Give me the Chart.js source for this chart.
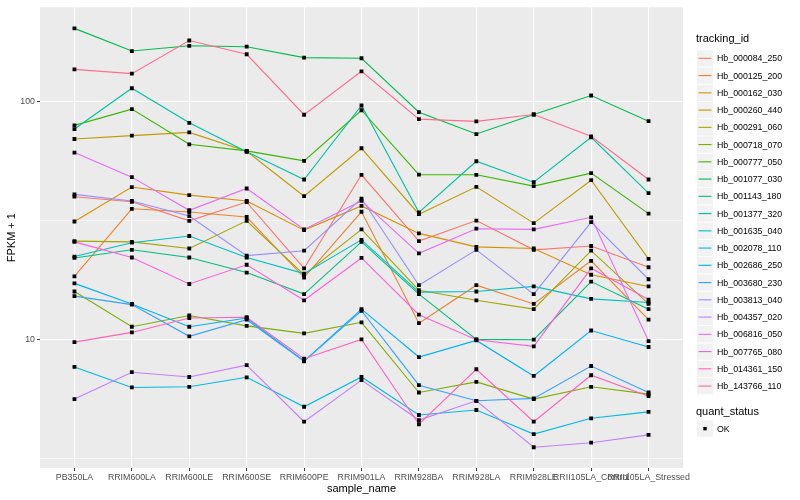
<!DOCTYPE html>
<html>
<head>
<meta charset="utf-8">
<script src="https://cdn.jsdelivr.net/npm/chart.js@4.4.1/dist/chart.umd.min.js"></script>
<style>
  html, body { margin: 0; padding: 0; background: #fff; }
  #wrap { width: 800px; height: 500px; }
</style>
</head>
<body>
<div id="wrap"><canvas id="chart" width="800" height="500"></canvas></div>
<script>
// Samples on the x axis
var sampleNames = ['PB350LA', 'RRIM600LA', 'RRIM600LE', 'RRIM600SE', 'RRIM600PE', 'RRIM901LA',
                   'RRIM928BA', 'RRIM928LA', 'RRIM928LE', 'RRII105LA_Control', 'RRII105LA_Stressed'];

// FPKM + 1 per transcript, one value per sample
var hb_000084_250 = [39.8, 37.9, 31.5, 37.8, 19.9, 49.2, 25.9, 31.6, 23.8, 24.7, 20.1];
var hb_000125_200 = [18.4, 35.4, 34.3, 32.7, 18.2, 34.4, 11.7, 16.9, 14.1, 21.4, 12.1];
var hb_000162_030 = [31.3, 43.7, 40.4, 38.2, 28.8, 36.4, 27.9, 24.5, 24.1, 18.7, 16.7];
var hb_000260_440 = [69.6, 71.9, 74.2, 61.8, 40.0, 63.6, 33.6, 43.8, 30.8, 46.7, 21.8];
var hb_000291_060 = [25.9, 25.7, 24.1, 31.5, 18.7, 29.0, 16.1, 14.6, 13.4, 23.6, 14.1];
var hb_000718_070 = [15.9, 11.3, 12.6, 11.4, 10.6, 11.8, 5.98, 6.63, 5.61, 6.32, 5.89];
var hb_000777_050 = [79.4, 92.9, 66.1, 62.0, 56.3, 91.9, 49.3, 49.2, 44.1, 50.0, 33.8];
var hb_001077_030 = [203, 163, 171.5, 170, 153, 152, 90.2, 73.0, 88.2, 106, 82.7];
var hb_001143_180 = [22.0, 23.8, 22.1, 19.1, 15.5, 25.7, 15.5, 10.0, 9.97, 17.5, 13.4];
var hb_001377_320 = [76.6, 113.7, 81.4, 61.5, 47.0, 96.2, 34.2, 56.1, 45.8, 70.7, 41.2];
var hb_001635_040 = [22.3, 25.5, 27.2, 22.1, 18.9, 26.2, 15.8, 15.9, 16.7, 14.8, 14.3];
var hb_002078_110 = [7.66, 6.28, 6.32, 6.93, 5.21, 6.95, 4.81, 5.05, 4.00, 4.66, 4.96];
var hb_002686_250 = [17.2, 14.1, 11.3, 12.3, 8.11, 13.4, 8.43, 9.90, 7.02, 10.9, 9.29];
var hb_003680_230 = [15.2, 14.0, 10.3, 12.1, 8.09, 13.2, 6.42, 5.52, 5.65, 7.73, 5.98];
var hb_003813_040 = [40.7, 38.2, 33.0, 22.5, 23.6, 39.1, 16.9, 23.8, 15.5, 31.1, 17.9];
var hb_004357_020 = [5.61, 7.28, 6.95, 7.79, 4.51, 6.74, 4.58, 5.52, 3.52, 3.68, 3.97];
var hb_006816_050 = [61.0, 48.1, 34.9, 43.1, 29.0, 38.2, 23.0, 29.2, 29.0, 32.6, 9.84];
var hb_007765_080 = [25.7, 22.1, 17.1, 20.6, 14.6, 22.0, 12.7, 9.97, 9.35, 19.9, 14.7];
var hb_014361_150 = [9.74, 10.7, 12.3, 12.4, 8.30, 10.0, 4.40, 7.49, 4.51, 7.07, 5.77];
var hb_143766_110 = [136.5, 131, 180.5, 158, 88.0, 134, 84.3, 82.5, 88.2, 71.4, 47.0];

var trackingIds = ['Hb_000084_250', 'Hb_000125_200', 'Hb_000162_030', 'Hb_000260_440', 'Hb_000291_060',
                   'Hb_000718_070', 'Hb_000777_050', 'Hb_001077_030', 'Hb_001143_180', 'Hb_001377_320',
                   'Hb_001635_040', 'Hb_002078_110', 'Hb_002686_250', 'Hb_003680_230', 'Hb_003813_040',
                   'Hb_004357_020', 'Hb_006816_050', 'Hb_007765_080', 'Hb_014361_150', 'Hb_143766_110'];
var seriesValues = [hb_000084_250, hb_000125_200, hb_000162_030, hb_000260_440, hb_000291_060,
                    hb_000718_070, hb_000777_050, hb_001077_030, hb_001143_180, hb_001377_320,
                    hb_001635_040, hb_002078_110, hb_002686_250, hb_003680_230, hb_003813_040,
                    hb_004357_020, hb_006816_050, hb_007765_080, hb_014361_150, hb_143766_110];
var quantStatus = ['OK'];

// y axis: labelled breaks and the minor lines between them
var yBreaks = [3.1623, 10, 31.623, 100];
var yBreakLabels = ['', '10', '', '100'];

// ggplot default hue palette for 20 levels
var palette = ['#F8766D', '#EA8331', '#D89000', '#C09B00', '#A3A500', '#7CAE00', '#39B600', '#00BB4E',
               '#00BF7D', '#00C1A3', '#00BFC4', '#00BAE0', '#00B0F6', '#35A2FF', '#9590FF', '#C77CFF',
               '#E76BF3', '#FA62DB', '#FF62BC', '#FF6C91'];

var FONT = "'Liberation Sans', Arial, sans-serif";

    // Turns a value list into {x, y} points, x = sample position 1..n
    function toPoints(values) {
        return values.map(function (v, i) { return { x: i + 1, y: v }; });
    }

    var datasets = [];
    seriesValues.forEach(function (values, i) {
        datasets.push({
            label: trackingIds[i],
            data: toPoints(values),
            borderColor: palette[i],
            backgroundColor: palette[i],
            borderWidth: 1.1,
            pointRadius: 0,
            tension: 0,
            fill: false,
            order: seriesValues.length - i
        });
    });

    // all the points in one layer on top, as geom_point does
    var allPoints = [];
    seriesValues.forEach(function (values) { allPoints = allPoints.concat(toPoints(values)); });
    datasets.push({
        label: quantStatus[0],
        data: allPoints,
        showLine: false,
        pointStyle: 'rect',
        pointRadius: 2.7,
        pointBackgroundColor: '#000',
        pointBorderWidth: 0,
        order: 0
    });

    // Grey panel behind the grid
    var panelPlugin = {
        id: 'panel',
        beforeDraw: function (chart) {
            var a = chart.chartArea, ctx = chart.ctx;
            ctx.save();
            ctx.fillStyle = '#EBEBEB';
            ctx.fillRect(a.left, a.top, a.right - a.left, a.bottom - a.top);
            ctx.restore();
        }
    };

    // ggplot style legend on the right
    var legendPlugin = {
        id: 'ggLegend',
        afterDraw: function (chart) {
            var ctx = chart.ctx;
            var x0 = 696, keyW = 17, keyH = 17.25, top = 49.7;
            ctx.save();
            ctx.textBaseline = 'middle';
            ctx.fillStyle = '#000';
            ctx.font = '11px ' + FONT;
            ctx.fillText('tracking_id', x0, 39);
            ctx.font = '8.8px ' + FONT;
            trackingIds.forEach(function (name, i) {
                var y = top + i * keyH;
                ctx.fillStyle = '#F2F2F2';
                ctx.fillRect(x0 + 1, y + 0.5, keyW - 1, keyH - 1);
                ctx.strokeStyle = palette[i];
                ctx.lineWidth = 1.1;
                ctx.beginPath();
                ctx.moveTo(x0 + 2.5, y + keyH / 2);
                ctx.lineTo(x0 + keyW - 1.5, y + keyH / 2);
                ctx.stroke();
                ctx.fillStyle = '#000';
                ctx.fillText(name, x0 + keyW + 4, y + keyH / 2 + 0.5);
            });
            ctx.font = '11px ' + FONT;
            ctx.fillText('quant_status', x0, 411.5);
            var y = 420;
            ctx.fillStyle = '#F2F2F2';
            ctx.fillRect(x0 + 1, y + 0.5, keyW - 1, keyH - 1);
            ctx.fillStyle = '#000';
            ctx.fillRect(x0 + 1 + keyW / 2 - 2.2, y + keyH / 2 - 1.7, 3.4, 3.4);
            ctx.font = '8.8px ' + FONT;
            ctx.fillText(quantStatus[0], x0 + keyW + 4, y + keyH / 2 + 0.5);
            ctx.restore();
        }
    };

    var ctx = document.getElementById('chart').getContext('2d');
    new Chart(ctx, {
        type: 'line',
        data: { datasets: datasets },
        plugins: [panelPlugin, legendPlugin],
        options: {
            responsive: false,
            animation: false,
            layout: { padding: { top: 5, right: 117, left: 0, bottom: 0 } },
            plugins: {
                legend: { display: false },
                tooltip: { enabled: false }
            },
            scales: {
                x: {
                    type: 'linear',
                    bounds: 'data',
                    min: 0.4,
                    max: sampleNames.length + 0.6,
                    afterFit: function (scale) { scale.height = 32; },
                    afterBuildTicks: function (scale) {
                        scale.ticks = sampleNames.map(function (n, i) { return { value: i + 1 }; });
                    },
                    ticks: {
                        autoSkip: false,
                        maxRotation: 0,
                        minRotation: 0,
                        padding: 1,
                        color: '#4D4D4D',
                        font: { family: FONT, size: 8.8 },
                        callback: function (value) { return sampleNames[Math.round(value) - 1]; }
                    },
                    grid: { color: '#FFFFFF', lineWidth: 1.1, tickColor: '#333333', tickLength: 3, tickWidth: 1 },
                    border: { display: false },
                    title: {
                        display: true,
                        text: 'sample_name',
                        color: '#000',
                        font: { family: FONT, size: 11 },
                        padding: { top: 0, bottom: 4 }
                    }
                },
                y: {
                    type: 'logarithmic',
                    bounds: 'data',
                    min: 2.88,
                    max: 249,
                    afterFit: function (scale) { scale.width = 40; },
                    afterBuildTicks: function (scale) {
                        scale.ticks = yBreaks.map(function (v) { return { value: v }; });
                    },
                    ticks: {
                        padding: 2,
                        color: '#4D4D4D',
                        font: { family: FONT, size: 8.8 },
                        callback: function (value, index) { return yBreakLabels[index]; }
                    },
                    grid: {
                        color: '#FFFFFF',
                        lineWidth: function (c) { return yBreakLabels[c.index] ? 1.1 : 0.55; },
                        tickColor: function (c) { return yBreakLabels[c.index] ? '#333333' : 'rgba(0,0,0,0)'; },
                        tickLength: 3,
                        tickWidth: 1
                    },
                    border: { display: false },
                    title: {
                        display: true,
                        text: 'FPKM + 1',
                        color: '#000',
                        font: { family: FONT, size: 11 },
                        padding: { top: 5, bottom: 0 }
                    }
                }
            }
        }
    });
</script>
</body>
</html>
